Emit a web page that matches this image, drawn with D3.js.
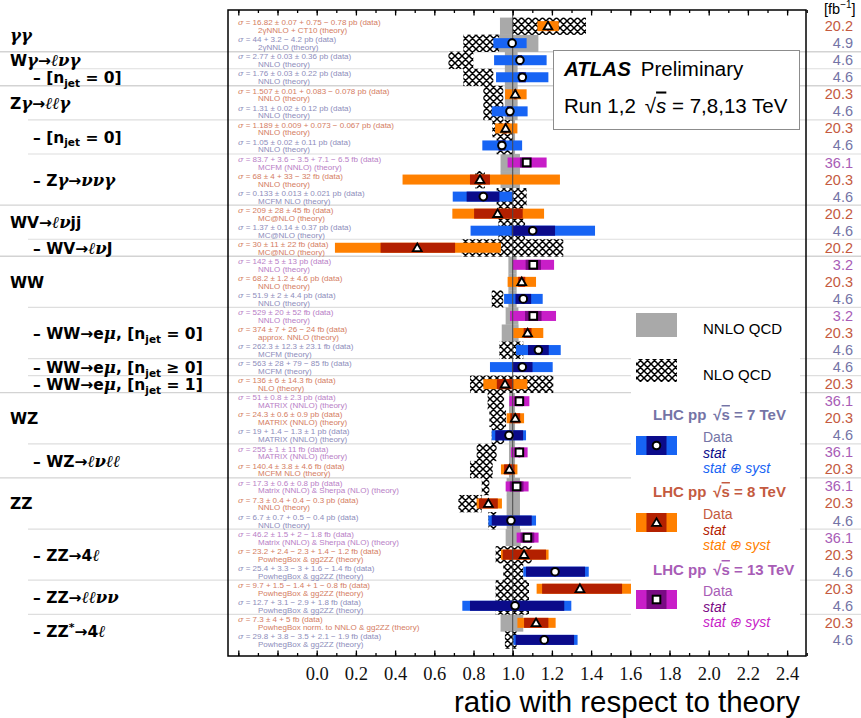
<!DOCTYPE html>
<html><head><meta charset="utf-8">
<script src="https://cdn.jsdelivr.net/npm/d3@7"></script>
<style>body{margin:0;background:#fff}</style>
</head><body>
<svg id="c" width="861" height="718"></svg>
<script>
// ---------------- DATA ----------------
const energies = [8,7,7,7,8,7,8,7,13,8,7,8,7,8,13,8,7,13,8,7,7,8,13,8,7,13,8,13,8,7,13,8,7,8,7,8,7];
const lumis = ["20.2","4.9","4.6","4.6","20.3","4.6","20.3","4.6","36.1","20.3","4.6","20.2","4.6","20.2","3.2","20.3","4.6","3.2","20.3","4.6","4.6","20.3","36.1","20.3","4.6","36.1","20.3","36.1","20.3","4.6","36.1","20.3","4.6","20.3","4.6","20.3","4.6"];
const central = [1.18,0.997,1.037,1.049,1.013,0.986,0.964,0.945,1.071,0.833,0.85,0.923,1.102,0.513,1.105,1.046,1.054,1.105,1.076,1.131,1.049,0.961,1.034,1.013,0.981,1.034,0.983,1.02,0.876,0.991,1.075,1.058,1.216,1.343,1.012,1.119,1.161];
const totLo = [1.126,0.901,0.905,0.915,0.961,0.893,0.910,0.845,0.974,0.438,0.694,0.692,0.785,0.093,0.998,0.974,0.956,0.986,1.003,1.017,0.884,0.85,0.983,0.969,0.893,0.991,0.94,0.964,0.816,0.876,1.02,0.94,1.054,1.122,0.743,1.024,1.003];
const totHi = [1.235,1.071,1.173,1.182,1.071,1.076,1.024,1.048,1.173,1.241,1.003,1.16,1.42,0.94,1.211,1.119,1.153,1.221,1.156,1.245,1.204,1.075,1.085,1.058,1.068,1.076,1.024,1.081,0.945,1.119,1.132,1.183,1.388,1.611,1.299,1.219,1.331];
const statLo = [1.175,null,1.026,1.031,1.006,0.971,0.957,0.927,1.037,0.782,0.765,0.803,0.995,0.326,1.066,1.028,1.014,1.063,1.056,1.078,0.997,0.919,1.015,0.988,0.911,1.029,0.956,0.985,0.828,0.893,1.04,0.949,1.068,1.15,0.782,1.058,1.015];
const statHi = [1.185,null,1.048,1.067,1.02,1.001,0.971,0.963,1.097,0.884,0.932,1.051,1.216,0.706,1.144,1.064,1.094,1.147,1.096,1.184,1.101,1.003,1.053,1.038,1.053,1.039,1.01,1.055,0.924,1.097,1.11,1.17,1.369,1.558,1.263,1.182,1.313];
const nnloLo = [0.935,0.88,0.96,0.96,0.96,0.96,0.97,0.97,0.938,0.938,null,null,null,null,0.978,0.978,0.978,0.964,0.944,null,null,null,0.981,0.981,0.981,0.981,0.981,0.969,0.969,0.969,0.964,null,null,null,null,0.938,null];
const nnloHi = [1.065,1.131,1.025,1.025,1.025,1.025,1.012,1.012,1.037,1.037,null,null,null,null,1.02,1.02,1.02,1.029,1.03,null,null,null,1.012,1.012,1.012,1.012,1.012,1.037,1.037,1.037,1.041,null,null,null,null,1.054,null];
const nloLo = [1.0,0.748,0.672,0.748,0.85,0.85,0.896,0.918,null,0.808,0.918,0.927,0.927,0.74,null,null,0.893,null,null,0.932,null,0.782,0.872,0.881,0.893,0.816,0.782,0.842,0.723,0.876,null,0.913,0.952,0.913,0.913,null,0.96];
const nloHi = [1.374,0.93,0.799,0.901,0.952,0.952,0.998,1.0,null,0.858,1.071,1.054,1.063,1.258,null,null,0.952,null,null,1.054,null,1.207,0.956,0.966,0.956,0.918,0.898,0.881,0.842,0.918,null,1.097,1.054,1.083,1.083,null,1.02];
const dataTexts = [
 "16.82 ± 0.07 + 0.75 − 0.78 pb (data)","44 + 3.2 − 4.2 pb (data)","2.77 ± 0.03 ± 0.36 pb (data)","1.76 ± 0.03 ± 0.22 pb (data)",
 "1.507 ± 0.01 + 0.083 − 0.078 pb (data)","1.31 ± 0.02 ± 0.12 pb (data)","1.189 ± 0.009 + 0.073 − 0.067 pb (data)","1.05 ± 0.02 ± 0.11 pb (data)",
 "83.7 + 3.6 − 3.5 + 7.1 − 6.5 fb (data)","68 ± 4 + 33 − 32 fb (data)","0.133 ± 0.013 ± 0.021 pb (data)","209 ± 28 ± 45 fb (data)",
 "1.37 ± 0.14 ± 0.37 pb (data)","30 ± 11 ± 22 fb (data)","142 ± 5 ± 13 pb (data)","68.2 ± 1.2 ± 4.6 pb (data)","51.9 ± 2 ± 4.4 pb (data)",
 "529 ± 20 ± 52 fb (data)","374 ± 7 + 26 − 24 fb (data)","262.3 ± 12.3 ± 23.1 fb (data)","563 ± 28 + 79 − 85 fb (data)","136 ± 6 ± 14.3 fb (data)",
 "51 ± 0.8 ± 2.3 pb (data)","24.3 ± 0.6 ± 0.9 pb (data)","19 + 1.4 − 1.3 ± 1 pb (data)","255 ± 1 ± 11 fb (data)","140.4 ± 3.8 ± 4.6 fb (data)",
 "17.3 ± 0.6 ± 0.8 pb (data)","7.3 ± 0.4 + 0.4 − 0.3 pb (data)","6.7 ± 0.7 + 0.5 − 0.4 pb (data)","46.2 ± 1.5 + 2 − 1.8 fb (data)",
 "23.2 + 2.4 − 2.3 + 1.4 − 1.2 fb (data)","25.4 + 3.3 − 3 + 1.6 − 1.4 fb (data)","9.7 + 1.5 − 1.4 + 1 − 0.8 fb (data)","12.7 + 3.1 − 2.9 + 1.8 fb (data)",
 "7.3 ± 4 + 5 fb (data)","29.8 + 3.8 − 3.5 + 2.1 − 1.9 fb (data)"];
const theoryTexts = [
 "2γNNLO + CT10 (theory)","2γNNLO (theory)","NNLO (theory)","NNLO (theory)","NNLO (theory)","NNLO (theory)","NNLO (theory)","NNLO (theory)",
 "MCFM (NNLO) (theory)","NNLO (theory)","MCFM NLO (theory)","MC@NLO (theory)","MC@NLO (theory)","MC@NLO (theory)",
 "NNLO (theory)","NNLO (theory)","NNLO (theory)","NNLO (theory)","approx. NNLO (theory)","MCFM (theory)","MCFM (theory)","NLO (theory)",
 "MATRIX (NNLO) (theory)","MATRIX (NNLO) (theory)","MATRIX (NNLO) (theory)","MATRIX (NNLO) (theory)","MCFM NLO (theory)",
 "Matrix (NNLO) & Sherpa (NLO) (theory)","NNLO (theory)","NNLO (theory)","Matrix (NNLO) & Sherpa (NLO) (theory)",
 "PowhegBox & gg2ZZ (theory)","PowhegBox & gg2ZZ (theory)","PowhegBox & gg2ZZ (theory)","PowhegBox & gg2ZZ (theory)",
 "PowhegBox norm. to NNLO & gg2ZZ (theory)","PowhegBox & gg2ZZ (theory)"];
// process labels: [row position, indent level, text parts]
const processLabels = [
 [0.5,0,[["γγ","m"]]],
 [2,0,[["W","b"],["γ","m"],["→","b"],["ℓνγ","m"]]],
 [3,1,[["– [n","b"],["jet","sub"],[" = 0]","b"]]],
 [4.5,0,[["Z","b"],["γ","m"],["→","b"],["ℓℓγ","m"]]],
 [6.5,1,[["– [n","b"],["jet","sub"],[" = 0]","b"]]],
 [9,1,[["– Z","b"],["γ","m"],["→","b"],["ννγ","m"]]],
 [11.5,0,[["WV→","b"],["ℓν","m"],["jj","b"]]],
 [13,1,[["– WV→","b"],["ℓν","m"],["J","b"]]],
 [15,0,[["WW","b"]]],
 [18,1,[["– WW→e","b"],["μ","m"],[", [n","b"],["jet","sub"],[" = 0]","b"]]],
 [20,1,[["– WW→e","b"],["μ","m"],[", [n","b"],["jet","sub"],[" ≥ 0]","b"]]],
 [21,1,[["– WW→e","b"],["μ","m"],[", [n","b"],["jet","sub"],[" = 1]","b"]]],
 [23,0,[["WZ","b"]]],
 [25.5,1,[["– WZ→","b"],["ℓνℓℓ","m"]]],
 [28,0,[["ZZ","b"]]],
 [31,1,[["– ZZ→4","b"],["ℓ","m"]]],
 [33.5,1,[["– ZZ→","b"],["ℓℓνν","m"]]],
 [35.5,1,[["– ZZ","b"],["*","sup"],["→4","b"],["ℓ","m"]]]
];
const fullSeparators = [1,3,10,13,21,26];
const partSeparators = [2,5,7,12,16,19,20,24,29,32,34];
const tickLabels = [0,0.2,0.4,0.6,0.8,1.0,1.2,1.4,1.6,1.8,2.0,2.2,2.4];

// ---------------- STYLES ----------------
const sty = {
  7: {syst:"#1764f4", stat:"#0b0b8a", txt:"#7474a6", ann:"#8d8dbb", shape:"circle"},
  8: {syst:"#ff8000", stat:"#b32000", txt:"#c45a40", ann:"#d47c62", shape:"triangle"},
  13:{syst:"#c81ec8", stat:"#7a0a84", txt:"#a85cb6", ann:"#b87ec6", shape:"square"}
};

const svg = d3.select("#c");
const W = 861;
const x = d3.scaleLinear().domain([-0.4526, 2.4964]).range([228, 806]);
const y = d3.scaleBand().domain(d3.range(37)).range([10, 656]).paddingOuter(0.445).paddingInner(0);
const step = y.step();
const yc = i => y(0) + step * (i + 0.5);

const defs = svg.append("defs");
const pat = defs.append("pattern").attr("id","hatch").attr("patternUnits","userSpaceOnUse").attr("width",7).attr("height",7);
pat.append("rect").attr("width",7).attr("height",7).attr("fill","#fff");
pat.append("path").attr("d","M0,0L7,7M7,0L0,7M-1,6L1,8M6,-1L8,1M-1,1L1,-1M6,8L8,6").attr("stroke","#000").attr("stroke-width",1.5);

// separators
const sepG = svg.append("g");
fullSeparators.forEach(r => sepG.append("line").attr("x1",0).attr("x2",W).attr("y1",yc(r)+step/2).attr("y2",yc(r)+step/2).attr("stroke","#d3d3d3").attr("stroke-width",1.4));
partSeparators.forEach(r => sepG.append("line").attr("x1",28).attr("x2",W).attr("y1",yc(r)+step/2).attr("y2",yc(r)+step/2).attr("stroke","#dedede").attr("stroke-width",1.2));

const rows = d3.range(37);
// theory bands
svg.append("g").selectAll("rect").data(rows.filter(i => nnloLo[i] !== null)).join("rect")
  .attr("x", i => x(nnloLo[i])).attr("width", i => x(nnloHi[i]) - x(nnloLo[i]))
  .attr("y", i => yc(i) - step/2).attr("height", step + 0.3).attr("fill","#a9a9a9");
svg.append("g").selectAll("rect").data(rows.filter(i => nloLo[i] !== null)).join("rect")
  .attr("x", i => x(nloLo[i])).attr("width", i => x(nloHi[i]) - x(nloLo[i]))
  .attr("y", i => yc(i) - step/2).attr("height", step + 0.3).attr("fill","url(#hatch)");

// data bars
const bh = 10;
svg.append("g").selectAll("rect").data(rows).join("rect")
  .attr("x", i => x(totLo[i])).attr("width", i => x(totHi[i]) - x(totLo[i]))
  .attr("y", i => yc(i) - bh/2).attr("height", bh).attr("fill", i => sty[energies[i]].syst);
svg.append("g").selectAll("rect").data(rows.filter(i => statLo[i] !== null)).join("rect")
  .attr("x", i => x(statLo[i])).attr("width", i => x(statHi[i]) - x(statLo[i]))
  .attr("y", i => yc(i) - bh/2).attr("height", bh).attr("fill", i => sty[energies[i]].stat);

// line at 1
svg.append("line").attr("x1", x(1)).attr("x2", x(1)).attr("y1",10).attr("y2",656).attr("stroke","#4a4a4a").attr("stroke-width",1);

// markers
function marker(g, shape, cx, cy) {
  if (shape === "circle") g.append("circle").attr("cx",cx).attr("cy",cy).attr("r",3.8).attr("fill","#fff").attr("stroke","#000").attr("stroke-width",2);
  else if (shape === "triangle") g.append("path").attr("d", d3.symbol(d3.symbolTriangle, 34)()).attr("transform",`translate(${cx},${cy+0.8})`).attr("fill","#fff").attr("stroke","#000").attr("stroke-width",1.8);
  else g.append("rect").attr("x",cx-3.8).attr("y",cy-3.8).attr("width",7.6).attr("height",7.6).attr("fill","#fff").attr("stroke","#000").attr("stroke-width",2);
}
const mg = svg.append("g");
rows.forEach(i => marker(mg, sty[energies[i]].shape, x(central[i]), yc(i)));

// annotation texts
const ag = svg.append("g").attr("font-family","'Liberation Sans', Arial, sans-serif").attr("font-size",8);
rows.forEach(i => {
  const c = sty[energies[i]].ann;
  const t = ag.append("text").attr("x",238).attr("y",yc(i)-0.8).attr("fill",c);
  t.append("tspan").attr("font-style","italic").attr("font-family","'DejaVu Serif', serif").text("σ");
  t.append("tspan").text(" = " + dataTexts[i]);
  ag.append("text").attr("x",258).attr("y",yc(i)+7).attr("fill",c).text(theoryTexts[i]);
});

// frame
svg.append("rect").attr("x",228).attr("y",10).attr("width",578).attr("height",646).attr("fill","none").attr("stroke","#000").attr("stroke-width",1.5);
const major = d3.range(-4, 25, 2).map(d => d/10);
const minor = d3.range(-4, 26, 1).map(d => d/10);
function ticks(axisFn, yPos, vals, size) {
  const a = axisFn(x).tickValues(vals).tickSizeInner(-size).tickSizeOuter(0).tickFormat("");
  const g = svg.append("g").attr("transform",`translate(0,${yPos})`).call(a);
  g.select(".domain").remove();
  g.selectAll("line").attr("stroke","#000").attr("stroke-width",1.3);
}
ticks(d3.axisBottom, 656, minor, 3);
ticks(d3.axisBottom, 656, major, 5.5);
ticks(d3.axisTop, 10, minor, 3);
ticks(d3.axisTop, 10, major, 5.5);
const lab = d3.axisBottom(x).tickValues(tickLabels).tickSize(0).tickPadding(11).tickFormat(d3.format(".1f"));
const lg = svg.append("g").attr("transform","translate(0,656)").call(lab);
lg.select(".domain").remove();
lg.selectAll("text").attr("font-family","'Liberation Serif', 'DejaVu Serif', serif").attr("font-size",18.5).attr("fill","#111");

svg.append("text").attr("x",800).attr("y",712).attr("text-anchor","end")
  .attr("font-family","'Liberation Sans', Arial, sans-serif").attr("font-size",29.5).attr("fill","#000")
  .text("ratio with respect to theory");

// process labels
const pg = svg.append("g").attr("font-family","'DejaVu Sans', sans-serif").attr("font-weight","bold").attr("font-size",15.5).attr("fill","#000");
processLabels.forEach(([r, ind, parts]) => {
  const t = pg.append("text").attr("x", ind ? 33 : 10).attr("y", yc(r) + 6);
  let shift = 0;
  parts.forEach(([s, k]) => {
    const ts = t.append("tspan").text(s);
    let dy = -shift; shift = 0;
    if (k === "m") ts.attr("font-family","'DejaVu Serif', serif").attr("font-style","italic").attr("font-size",16.5);
    if (k === "sub") { ts.attr("font-size",10.5); dy += 3.5; shift = 3.5; }
    if (k === "sup") { ts.attr("font-size",11); dy += -6; shift = -6; }
    if (dy) ts.attr("dy", dy);
  });
});

// luminosity column
const lumG = svg.append("g").attr("font-family","'Liberation Sans', Arial, sans-serif").attr("font-size",14.5);
rows.forEach(i => lumG.append("text").attr("x",853).attr("y",yc(i)+5).attr("text-anchor","end").attr("fill",sty[energies[i]].txt).text(lumis[i]));
const fbt = svg.append("text").attr("x",824).attr("y",14).attr("font-family","'Liberation Sans', Arial, sans-serif").attr("font-size",14.5).attr("fill","#000");
fbt.append("tspan").text("[fb");
fbt.append("tspan").attr("font-size",10).attr("dy",-6).text("−1");
fbt.append("tspan").attr("dy",6).text("]");

// ATLAS box
svg.append("rect").attr("x",553.5).attr("y",50.5).attr("width",246).attr("height",79).attr("fill","#fff").attr("stroke","#8c8c8c").attr("stroke-width",1);
const at = svg.append("text").attr("x",564).attr("y",75.5).attr("font-family","'Liberation Sans', Arial, sans-serif").attr("font-size",20.5).attr("fill","#000");
at.append("tspan").attr("font-weight","bold").attr("font-style","italic").text("ATLAS");
at.append("tspan").attr("dx",10).text("Preliminary");
const rt = svg.append("text").attr("x",564).attr("y",112.5).attr("font-family","'Liberation Sans', Arial, sans-serif").attr("font-size",20.5).attr("fill","#000");
rt.append("tspan").text("Run 1,2");
rt.append("tspan").attr("dx",9).text("√");
rt.append("tspan").attr("font-style","italic").attr("text-decoration","overline").text("s");
rt.append("tspan").text(" = 7,8,13 TeV");

// legend
svg.append("rect").attr("x",631).attr("y",309).attr("width",169).attr("height",324).attr("fill","#fff");
const LF = "'Liberation Sans', Arial, sans-serif";
svg.append("rect").attr("x",636).attr("y",313).attr("width",41).attr("height",24).attr("fill","#a9a9a9");
svg.append("text").attr("x",703).attr("y",334).attr("font-family",LF).attr("font-size",15).text("NNLO QCD");
svg.append("rect").attr("x",636).attr("y",359).attr("width",41).attr("height",23).attr("fill","url(#hatch)");
svg.append("text").attr("x",703).attr("y",380).attr("font-family",LF).attr("font-size",15).text("NLO QCD");
const legE = [[7, 420, 436, "7"], [8, 497, 513, "8"], [13, 575, 590, "13"]];
legE.forEach(([e, ty, by, lbl]) => {
  const s = sty[e];
  const t = svg.append("text").attr("x",653).attr("y",ty).attr("font-family",LF).attr("font-size",15).attr("font-weight","bold").attr("fill",s.txt);
  t.append("tspan").text("LHC pp");
  t.append("tspan").attr("dx",7).text("√");
  t.append("tspan").attr("text-decoration","overline").text("s");
  t.append("tspan").text(" = " + lbl + " TeV");
  svg.append("rect").attr("x",636).attr("y",by).attr("width",41).attr("height",19).attr("fill",s.syst);
  svg.append("rect").attr("x",646.5).attr("y",by).attr("width",20).attr("height",19).attr("fill",s.stat);
  marker(svg, s.shape, 656.5, by + 9.5);
  svg.append("text").attr("x",703).attr("y",by+6).attr("font-family",LF).attr("font-size",14).attr("fill",s.txt).text("Data");
  svg.append("text").attr("x",703).attr("y",by+21.5).attr("font-family",LF).attr("font-size",14).attr("font-style","italic").attr("fill",s.stat).text("stat");
  svg.append("text").attr("x",703).attr("y",by+36.5).attr("font-family",LF).attr("font-size",14).attr("font-style","italic").attr("fill",s.syst).text("stat ⊕ syst");
});
</script>
</body></html>
